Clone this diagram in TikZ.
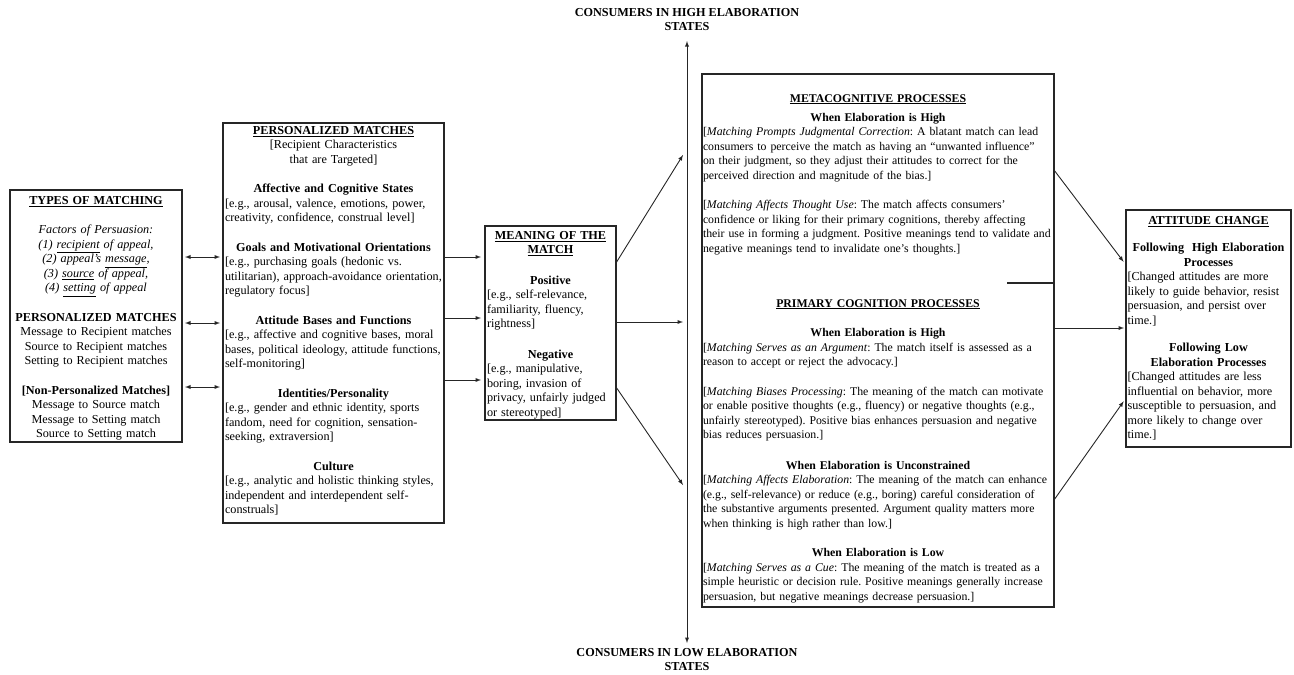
\documentclass[tikz,border=0pt]{standalone}
\usepackage{fontspec}
\setmainfont{Liberation Serif}
\usetikzlibrary{%
  arrows,%
  calc%
}
\tikzset{>=latex}
\tikzset{
  box/.style={draw=black!85, line width=1.1pt, inner sep=0pt, outer sep=0pt},
  txt/.style={inner sep=0pt, align=left, font={\fontsize{12.2}{14.5}\selectfont\frenchspacing}},
  smalltxt/.style={txt, font={\fontsize{11.8}{14.5}\selectfont\frenchspacing}},
  state/.style={inner sep=0pt, align=center, font={\fontsize{12.2}{14.5}\selectfont\bfseries}},
  link/.style={draw=black!85, line width=0.9pt}
}
\newcommand\head[1]{{\centering\textbf{#1}\par}}

\begin{document}
\begin{tikzpicture}[x=1pt,y=-1pt]
  \useasboundingbox (0,0) rectangle (1294,675);

  \node[box, minimum width=172pt, minimum height=252pt] (types) at (96,316) {};
  \node[box, minimum width=221pt, minimum height=400pt] (pers) at (333.5,323) {};
  \node[box, minimum width=131pt, minimum height=194pt] (meaning) at (550.5,323) {};
  \node[box, minimum width=352pt, minimum height=533pt] (proc) at (878,340.5) {};
  \node[box, minimum width=165pt, minimum height=237pt] (att) at (1208.5,328.5) {};
  \draw[box] (1007,283) -- (proc.east |- 0,283);

  \node[txt, align=center, text width=168pt, anchor=north] (typestxt) at (96,196) {
    \textbf{\underline{TYPES OF MATCHING}}\\[15pt]
    \textit{Factors of Persuasion:}\\
    \textit{(1) \underline{recipient} of appeal,}\\
    \textit{(2) appeal’s \underline{message},}\\
    \textit{(3) \underline{source} of appeal,}\\
    \textit{(4) \underline{setting} of appeal}\\[15pt]
    \textbf{PERSONALIZED MATCHES}\\
    Message to Recipient matches\\
    Source to Recipient matches\\
    Setting to Recipient matches\\[15pt]
    \textbf{[Non-Personalized Matches]}\\
    Message to Source match\\
    Message to Setting match\\
    Source to Setting match};

  \node[txt, text width=217pt, anchor=north] (perstxt) at (333.5,126) {
    \head{\underline{PERSONALIZED MATCHES}}
    {\centering [Recipient Characteristics\\that are Targeted]\par}
    \vspace{15pt}
    \head{Affective and Cognitive States}
    [e.g., arousal, valence, emotions, power,\\creativity, confidence, construal level]\par
    \vspace{15pt}
    \head{Goals and Motivational Orientations}
    [e.g., purchasing goals (hedonic vs.\\utilitarian), approach-avoidance orientation,\\regulatory focus]\par
    \vspace{15pt}
    \head{Attitude Bases and Functions}
    [e.g., affective and cognitive bases, moral\\bases, political ideology, attitude functions,\\self-monitoring]\par
    \vspace{15pt}
    \head{Identities/Personality}
    [e.g., gender and ethnic identity, sports\\fandom, need for cognition, sensation-\\seeking, extraversion]\par
    \vspace{15pt}
    \head{Culture}
    [e.g., analytic and holistic thinking styles,\\independent and interdependent self-\\construals]\par};

  \node[txt, text width=127pt, anchor=north] (meaningtxt) at (550.5,231) {
    \head{\underline{MEANING OF THE}\\\underline{MATCH}}
    \vspace{16pt}
    \head{Positive}
    [e.g., self-relevance,\\familiarity, fluency,\\rightness]\par
    \vspace{16pt}
    \head{Negative}
    [e.g., manipulative,\\boring, invasion of\\privacy, unfairly judged\\or stereotyped]\par};

  \node[smalltxt, text width=350pt, anchor=north] (metatxt) at (878,94) {
    \head{\underline{METACOGNITIVE PROCESSES}}
    \vspace{4.5pt}
    \head{When Elaboration is High}
    [\textit{Matching Prompts Judgmental Correction}: A blatant match can lead\\
    consumers to perceive the match as having an “unwanted influence”\\
    on their judgment, so they adjust their attitudes to correct for the\\
    perceived direction and magnitude of the bias.]\par
    \vspace{15pt}
    [\textit{Matching Affects Thought Use}: The match affects consumers’\\
    confidence or liking for their primary cognitions, thereby affecting\\
    their use in forming a judgment. Positive meanings tend to validate and\\
    negative meanings tend to invalidate one’s thoughts.]\par};

  \node[smalltxt, text width=350pt, anchor=north] (primtxt) at (878,299) {
    \head{\underline{PRIMARY COGNITION PROCESSES}}
    \vspace{15pt}
    \head{When Elaboration is High}
    [\textit{Matching Serves as an Argument}: The match itself is assessed as a\\
    reason to accept or reject the advocacy.]\par
    \vspace{15pt}
    [\textit{Matching Biases Processing}: The meaning of the match can motivate\\
    or enable positive thoughts (e.g., fluency) or negative thoughts (e.g.,\\
    unfairly stereotyped). Positive bias enhances persuasion and negative\\
    bias reduces persuasion.]\par
    \vspace{16pt}
    \head{When Elaboration is Unconstrained}
    [\textit{Matching Affects Elaboration}: The meaning of the match can enhance\\
    (e.g., self-relevance) or reduce (e.g., boring) careful consideration of\\
    the substantive arguments presented. Argument quality matters more\\
    when thinking is high rather than low.]\par
    \vspace{15pt}
    \head{When Elaboration is Low}
    [\textit{Matching Serves as a Cue}: The meaning of the match is treated as a\\
    simple heuristic or decision rule. Positive meanings generally increase\\
    persuasion, but negative meanings decrease persuasion.]\par};

  \node[txt, text width=162pt, anchor=north] (atttxt) at (1208.5,216) {
    \head{\underline{ATTITUDE CHANGE}}
    \vspace{13pt}
    \head{Following\ \ High Elaboration\\Processes}
    [Changed attitudes are more\\likely to guide behavior, resist\\persuasion, and persist over\\time.]\par
    \vspace{13pt}
    \head{Following Low\\Elaboration Processes}
    [Changed attitudes are less\\influential on behavior, more\\susceptible to persuasion, and\\more likely to change over\\time.]\par};

  \node[state, anchor=north] (high) at (687,8) {CONSUMERS IN HIGH ELABORATION\\STATES};
  \node[state, anchor=north] (low) at (687,648) {CONSUMERS IN LOW ELABORATION\\STATES};
  \draw[link, <->, shorten <=10pt, shorten >=5pt] (high.south) -- (low.north);

  \draw[link, <->, shorten <=3pt, shorten >=3pt] (types.east |- 0,257) -- (pers.west |- 0,257);
  \draw[link, <->, shorten <=3pt, shorten >=3pt] (types.east |- 0,323) -- (pers.west |- 0,323);
  \draw[link, <->, shorten <=3pt, shorten >=3pt] (types.east |- 0,387) -- (pers.west |- 0,387);

  \draw[link, ->, shorten >=4pt] (pers.east |- 0,257) -- (meaning.west |- 0,257);
  \draw[link, ->, shorten >=4pt] (pers.east |- 0,318) -- (meaning.west |- 0,318);
  \draw[link, ->, shorten >=4pt] (pers.east |- 0,380) -- (meaning.west |- 0,380);

  \coordinate (mhigh) at (683,155);
  \coordinate (mmid) at (683,322);
  \coordinate (mlow) at (683,485);
  \draw[link, ->] (meaning.east |- 0,263) -- (mhigh);
  \draw[link, ->] (meaning.east |- 0,322) -- (mmid);
  \draw[link, ->] (meaning.east |- 0,387) -- (mlow);

  \draw[link, ->, shorten >=4pt] (proc.east |- 0,170) -- (att.west |- 0,265);
  \draw[link, ->, shorten >=2pt] (proc.east |- 0,328) -- (att.west |- 0,328);
  \draw[link, ->, shorten >=4pt] (proc.east |- 0,500) -- (att.west |- 0,398);
\end{tikzpicture}
\end{document}
